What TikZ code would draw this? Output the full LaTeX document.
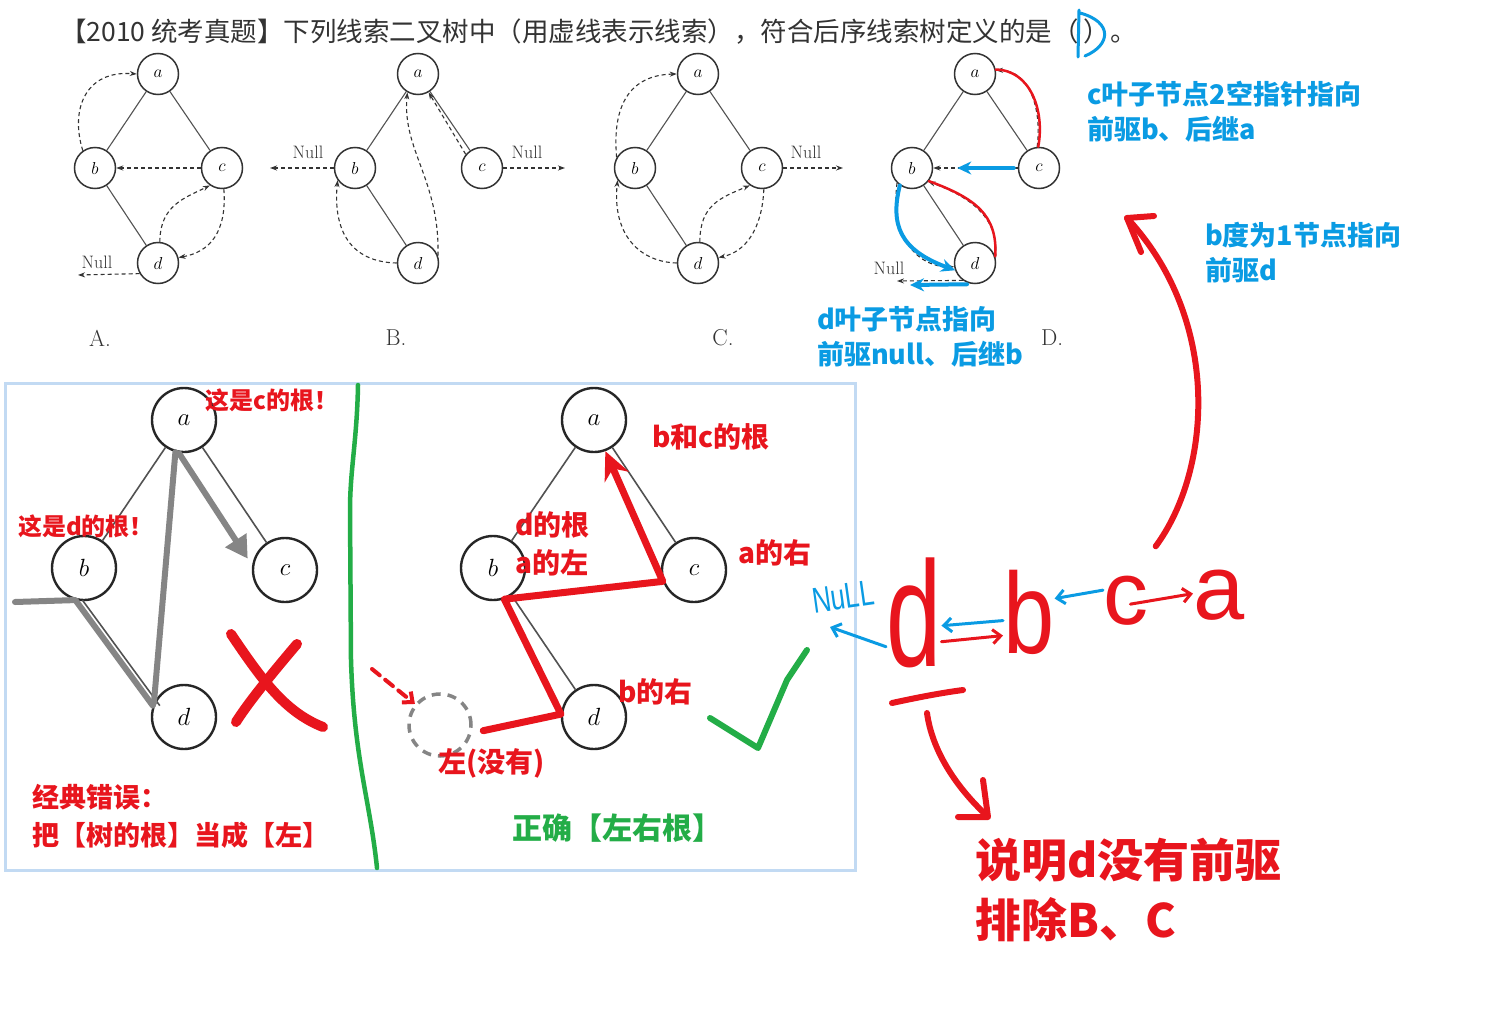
\documentclass[tikz,border=0pt]{standalone}
\usepackage{fontspec}
\usepackage{graphicx}
\usetikzlibrary{arrows.meta, positioning}
\newfontfamily\cjk{Noto Sans CJK SC}
\newfontfamily\handfont{Liberation Sans}
\definecolor{inkgray}{HTML}{333333}
\definecolor{penblue}{HTML}{0A9BE3}
\definecolor{penred}{HTML}{E8151D}
\definecolor{pengreen}{HTML}{23AD47}
\definecolor{markgray}{HTML}{858585}
\definecolor{panelline}{HTML}{C2DAF3}

\begin{document}
\begin{tikzpicture}[
    x=1pt, y=-1pt,
    >={Stealth[length=7pt, width=5pt]},
    % ── book figure ──
    tnode/.style={circle, draw=inkgray, line width=1.5pt, minimum size=41pt,
        inner sep=0pt, font=\fontsize{17}{17}\selectfont},
    bignode/.style={circle, draw=black!85, line width=2.4pt, minimum size=64pt,
        inner sep=0pt, font=\fontsize{28}{28}\selectfont},
    tedge/.style={draw=inkgray!85, line width=1.1pt},
    thread/.style={draw=inkgray, line width=1.1pt, dash pattern=on 4pt off 3pt, ->},
    nulltxt/.style={font=\fontsize{18}{18}\selectfont, text=inkgray},
    optlabel/.style={font=\fontsize{23}{23}\selectfont, text=inkgray},
    % ── pen notes ──
    bluenote/.style={font=\cjk\bfseries\fontsize{27}{35}\selectfont, text=penblue,
        align=left, anchor=west, inner sep=0pt},
    rednote/.style={font=\cjk\bfseries\fontsize{#1}{#1}\selectfont, text=penred,
        anchor=west, inner sep=0pt},
    handletter/.style={font=\handfont\fontsize{#1}{#1}\selectfont, text=penred,
        inner sep=0pt, anchor=south west},
    penline/.style={line width=#1, line cap=round, line join=round},
    bluehead/.style={-{Stealth[length=14pt, width=13pt]}},
    barb/.style={-{Straight Barb[length=8pt, width=14pt]}},
]
\useasboundingbox[fill=white] (0,0) rectangle (1512,1009);

% ══════════════════════════════════════════════════════════════════════
%  TITLE
% ══════════════════════════════════════════════════════════════════════
\node[anchor=west, inner sep=0pt, font=\cjk\fontsize{26.5}{26.5}\selectfont, text=inkgray]
    (title) at (60,32)
    {【2010 统考真题】下列线索二叉树中（用虚线表示线索），符合后序线索树定义的是（\hspace{5pt}）。};
\draw[penblue, penline=3pt] (1079,10) -- (1078,57)
    (1080,13) .. controls (1113,22) and (1111,45) .. (1085,56);

% ══════════════════════════════════════════════════════════════════════
%  FOUR OPTION TREES
% ══════════════════════════════════════════════════════════════════════
\foreach \tr/\x in {A/158, B/418, C/698, D/975} {
  \node[tnode] (\tr a) at (\x,74)     {$a$};
  \node[tnode] (\tr b) at (\x-63,168) {$b$};
  \node[tnode] (\tr c) at (\x+64,168) {$c$};
  \node[tnode] (\tr d) at (\x,263)    {$d$};
  \draw[tedge] (\tr a) -- (\tr b) (\tr a) -- (\tr c) (\tr b) -- (\tr d);
}
\node[optlabel] (labA) at (100,338)  {A.};
\node[optlabel] (labB) at (396,338)  {B.};
\node[optlabel] (labC) at (723,338)  {C.};
\node[optlabel] (labD) at (1052,338) {D.};

% ── A ──
\draw[thread] (Ab.125) .. controls (70,110) and (85,70) .. (Aa.west);
\draw[thread] (Ac.west) -- (Ab.east);
\draw[thread] (Ad.85) .. controls (160,205) and (185,198) .. (Ac.235);
\draw[thread] (Ac.275) .. controls (227,232) and (210,252) .. (Ad.15);
\coordinate (endA) at (78,275);
\draw[thread] (Ad.210) -- (endA);
\node[nulltxt] (nullA) at (97,262) {Null};

% ── B ──
\coordinate (endBl) at (270,168);
\draw[thread] (Bb.west) -- (endBl);
\node[nulltxt] (nullBl) at (308,152) {Null};
\draw[thread] (Bd.west) .. controls (350,262) and (333,230) .. (Bb.215);
\draw[thread] (Bd.20) .. controls (440,180) and (402,150) .. (Ba.240);
\draw[thread] (Bc.140) -- (Ba.300);
\coordinate (endBr) at (565,168);
\draw[thread] (Bc.east) -- (endBr);
\node[nulltxt] (nullBr) at (527,152) {Null};

% ── C ──
\draw[thread] (Cb.150) .. controls (612,105) and (630,75) .. (Ca.west);
\draw[thread] (Cd.west) .. controls (640,262) and (612,235) .. (Cb.215);
\draw[thread] (Cd.85) .. controls (700,205) and (720,198) .. (Cc.235);
\draw[thread] (Cc.275) .. controls (762,230) and (745,252) .. (Cd.15);
\coordinate (endC) at (843,168);
\draw[thread] (Cc.east) -- (endC);
\node[nulltxt] (nullC) at (806,152) {Null};

% ── D ──
\draw[thread] (Dc.95) .. controls (1042,110) and (1030,70) .. (Da.10);
\draw[thread] (Dc.west) -- (Db.east);
\draw[thread] (Dd.15) .. controls (1000,215) and (965,195) .. (Db.320);
\draw[thread] (Db.225) .. controls (890,240) and (920,268) .. (Dd.190);
\coordinate (endD) at (897,281);
\draw[thread] (Dd.235) -- (endD);
\node[nulltxt] (nullD) at (889,268) {Null};
% pen marks on D
\draw[penred, penline=2.5pt] (Dc.92) .. controls (1045,110) and (1030,70) .. (Da.12);
\draw[penred, penline=2.5pt] (Dd.18) .. controls (998,215) and (975,198) .. (Db.322);
\draw[penblue, penline=4pt, bluehead] ([xshift=-4pt]Dc.west) -- ([xshift=24pt]Db.east);
\draw[penblue, penline=4pt, bluehead] (Db.235) .. controls (890,225) and (900,250) .. (Dd.200);
\coordinate (nullDtip) at (910,285);
\draw[penblue, penline=4pt, bluehead] ([xshift=-8pt]Dd.270) -- (nullDtip);

% ── blue notes ──
\node[bluenote] (cnote) at (1087,112) {c叶子节点2空指针指向\\前驱b、后继a};
\node[bluenote] (bnote) at (1205,253) {b度为1节点指向\\前驱d};
\node[bluenote] (dnote) at (817,337)  {d叶子节点指向\\前驱null、后继b};

% ══════════════════════════════════════════════════════════════════════
%  BOTTOM PANEL
% ══════════════════════════════════════════════════════════════════════
\draw[panelline, line width=3pt, fill=white] (5,383) rectangle (855,870);
\draw[pengreen, penline=4.5pt] (358,385) .. controls (357,440) and (350,470) .. (350,510)
    -- (351,660) .. controls (354,760) and (370,800) .. (377,868);

% ── wrong reading ──
\node[bignode] (La) at (184,420) {$a$};
\node[bignode] (Lb) at (84,568)  {$b$};
\node[bignode] (Lc) at (285,570) {$c$};
\node[bignode] (Ld) at (184,717) {$d$};
\draw[tedge, line width=1.6pt] (La) -- (Lb) (La) -- (Lc);
\draw[tedge, line width=1.6pt] ([xshift=7pt]Lb.255) -- ([xshift=7pt]Ld.160);
\coordinate (barL) at (15,602);
\draw[markgray, penline=6pt] (barL) -- (Lb.255) -- (Ld.160);
\draw[markgray, penline=6pt] (La.255) -- (Ld.155);
\draw[markgray, penline=6pt, -{Triangle[length=22pt, width=24pt]}, shorten >=8pt]
    ([xshift=-5pt]La.270) -- (Lc.172);
\draw[penred, penline=10pt] (231,634) .. controls (262,680) and (285,712) .. (323,727);
\draw[penred, penline=10pt] (297,644) .. controls (275,670) and (250,700) .. (236,722);
\node[rednote=24] (rootc) at (205,400) {这是c的根！};
\node[rednote=24] (rootd) at (18,526)  {这是d的根！};
\node[rednote=27] (errA)  at (32,797)  {经典错误：};
\node[rednote=27] (errB)  at (32,835)  {把【树的根】当成【左】};

% ── right reading ──
\node[bignode] (Ra) at (594,420) {$a$};
\node[bignode] (Rb) at (493,568) {$b$};
\node[bignode] (Rc) at (694,570) {$c$};
\node[bignode] (Rd) at (594,717) {$d$};
\draw[tedge, line width=1.6pt] (Ra) -- (Rb) (Ra) -- (Rc) (Rb) -- (Rd);
\node[circle, draw=markgray, line width=3.5pt, dash pattern=on 9pt off 7pt,
    minimum size=62pt] (Rnil) at (440,725) {};
\draw[penred, penline=7pt, -{Stealth[length=28pt, width=26pt]}]
    ([xshift=11pt]Rnil.350) -- (Rd.175) -- (Rb.290) -- (Rc.200) -- (Ra.290);
\coordinate (hintS) at (372,669);
\draw[penred, penline=4pt, dash pattern=on 10pt off 7pt, barb] (hintS) -- (Rnil.140);
\draw[pengreen, penline=6pt] (710,718) -- (758,748) -- (787,680) -- (807,650);
\node[rednote=28] (rootbc) at (652,437) {b和c的根};
\node[rednote=28] (rootdb) at (515,525) {d的根};
\node[rednote=28] (leftA)  at (515,563) {a的左};
\node[rednote=28] (rightA) at (738,553) {a的右};
\node[rednote=28] (rightB) at (618,692) {b的右};
\node[rednote=28] (noleft) at (438,763) {左(没有)};
\node[rednote=30, text=pengreen] (okrule) at (512,828) {正确【左右根】};

% ══════════════════════════════════════════════════════════════════════
%  POST-ORDER SEQUENCE (hand written)
% ══════════════════════════════════════════════════════════════════════
\node[handletter=150] (hd) at (886,668) {\scalebox{0.66}[1]{d}};
\node[handletter=115] (hb) at (1003,655) {\scalebox{0.8}[1]{b}};
\node[handletter=90]  (hc) at (1103,626) {c};
\node[handletter=92]  (ha) at (1193,621) {a};
\node[font=\handfont\fontsize{36}{36}\selectfont, text=penblue, rotate=8, inner sep=0pt]
    (nullH) at (843,597) {\scalebox{0.72}[1]{NuLL}};

\draw[penblue, penline=3pt, barb] ([yshift=-8pt]hb.west) -- ([yshift=-13pt]hd.east);
\draw[penred, penline=3pt, barb] ([yshift=-29pt]hd.east) -- ([yshift=-23pt]hb.west);
\draw[penblue, penline=3pt, barb] ([yshift=11pt]hc.west) -- ([yshift=14pt]hb.east);
\draw[penred, penline=3pt, barb] ([xshift=-18pt, yshift=-3pt]hc.east) -- ([yshift=2pt]ha.west);
\coordinate (nullTip) at (830,627);
\draw[penblue, penline=3pt, barb] ([yshift=-34pt]hd.west) -- (nullTip);

% underline + pointer to conclusion
\draw[penred, penline=6pt] (892,703) .. controls (915,698) and (940,693) .. (963,690);
\coordinate (concTip) at (988,817);
\draw[penred, penline=6pt] (927,713) .. controls (932,750) and (955,785) .. (983,812);
\draw[penred, penline=6pt] (983,780) -- (concTip) -- (958,817);
\node[rednote=46] (concA) at (975,860) {说明d没有前驱};
\node[rednote=46] (concB) at (975,920) {排除B、C};

% big arrow up to the notes
\coordinate (capTip) at (1127,218);
\draw[penred, penline=6pt] ([xshift=30pt, yshift=30pt]hc.north) .. controls (1212,470) and (1222,320) .. (capTip);
\draw[penred, penline=6pt] (1154,216) -- (capTip) -- (1141,252);

\end{tikzpicture}
\end{document}
